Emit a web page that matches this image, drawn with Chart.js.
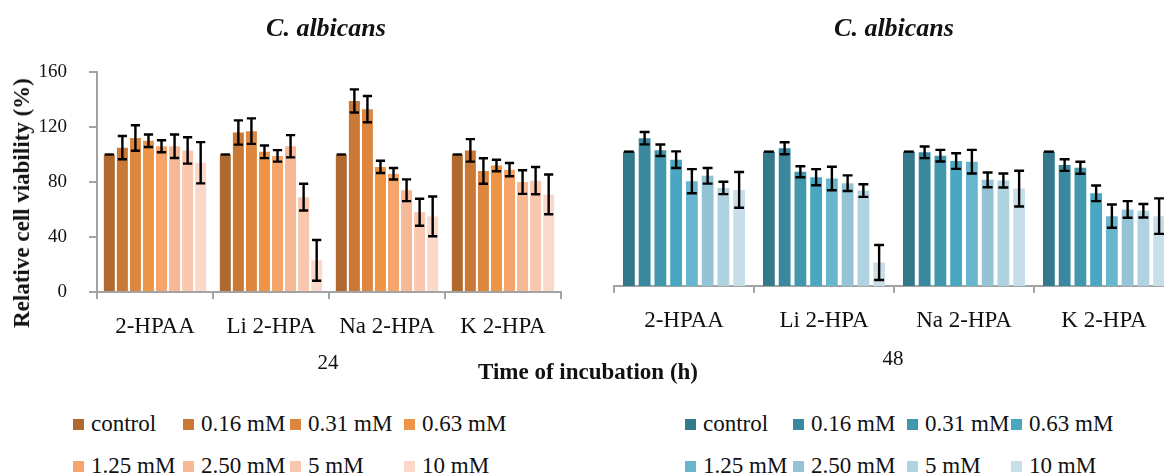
<!DOCTYPE html>
<html>
<head>
<meta charset="utf-8">
<script src="https://cdn.jsdelivr.net/npm/chart.js@4"></script>
<style>
  html, body { margin: 0; padding: 0; background: #fff; overflow: hidden; }
  body { width: 1164px; height: 475px; position: relative; font-family: "Liberation Serif", "DejaVu Serif", serif; color: #111; }
  canvas { position: absolute; top: 0; }
  #cLeft { left: 0; }
  #cRight { left: 600px; }
  .txt { position: absolute; white-space: nowrap; transform: translate(-50%, -50%); }
  .ttl { font-size: 26px; font-weight: bold; font-style: italic; }
  .hrs { font-size: 21px; }
  .xt { font-size: 23px; font-weight: bold; }
  .yt { font-size: 23px; font-weight: bold; transform: translate(-50%, -50%) rotate(-90deg); }
  .legend { position: absolute; display: grid; row-gap: 16px; font-size: 23px; line-height: 26px; }
  .legend .it { display: flex; align-items: center; }
  .legend .sw { width: 11px; height: 11px; margin-right: 7px; flex: none; }
</style>
</head>
<body>
<canvas id="cLeft" width="590" height="352"></canvas>
<canvas id="cRight" width="600" height="352"></canvas>

<div class="txt ttl" style="left:326px; top:28px">C. albicans</div>
<div class="txt ttl" style="left:894px; top:28px">C. albicans</div>
<div class="txt yt" style="left:22px; top:203px">Relative cell viability (%)</div>
<div class="txt hrs" style="left:328px; top:362px">24</div>
<div class="txt hrs" style="left:893px; top:358px">48</div>
<div class="txt xt" style="left:588px; top:372px">Time of incubation (h)</div>

<div class="legend" id="legLeft" style="left:73px; top:411px; grid-template-columns: 110px 107px 114px 110px"></div>
<div class="legend" id="legRight" style="left:685px; top:411px; grid-template-columns: 108px 114px 104px 110px"></div>

<script>
/* ---------- Dados ---------- */
const CATEGORIAS = ["2-HPAA", "Li 2-HPA", "Na 2-HPA", "K 2-HPA"];
const CONCENTRACOES = ["control", "0.16 mM", "0.31 mM", "0.63 mM", "1.25 mM", "2.50 mM", "5 mM", "10 mM"];

// 24 h — uma linha por concentração, uma coluna por composto
const MEDIA_24 = [
  [100, 100, 100, 100],
  [105, 116, 139, 103],
  [112, 117, 133, 88],
  [110, 102, 91, 92],
  [106, 99, 86, 89],
  [106, 106, 74, 80],
  [103, 69, 58, 81],
  [94, 23, 55, 71],
];
const ERRO_24 = [
  [0, 0, 0, 0],
  [8.5, 8.8, 8.4, 8.2],
  [9.3, 9.3, 9.5, 9.3],
  [4.5, 4.6, 4.5, 4.2],
  [4.4, 4.2, 4.2, 4.8],
  [8.5, 8.1, 7.9, 8.6],
  [9.6, 9.7, 9.8, 9.9],
  [15, 14.8, 14.5, 14.5],
];

// 48 h
const MEDIA_48 = [
  [100, 100, 100, 100],
  [110, 102.5, 99.5, 90],
  [101, 85, 97, 88],
  [94, 81, 93, 69],
  [78, 80, 92.5, 52],
  [82, 76.5, 79, 57],
  [73, 71, 78.5, 56],
  [71.5, 17.5, 72.5, 52],
];
const ERRO_48 = [
  [0, 0, 0, 0],
  [4.6, 4.5, 4.3, 4.3],
  [4.3, 4.1, 4.3, 4.5],
  [6.2, 6, 5.8, 5.8],
  [9, 8.7, 8.8, 8.6],
  [5.8, 5.8, 5.5, 6.2],
  [4.6, 4.7, 5.2, 5],
  [13.3, 13, 13.3, 13.2],
];

const Y_TICKS = [0, 40, 80, 120, 160];

const LARANJA = ["#b0692f", "#c97836", "#dc8640", "#ee9447", "#f5a46a", "#f7b995", "#f9c7ad", "#fad9cb"];
const AZUL = ["#33798b", "#3a889d", "#4197ac", "#4aa7c1", "#68b6cd", "#93c3d4", "#afd3e0", "#c8dee8"];

const FONTE = "'Liberation Serif', 'DejaVu Serif', serif";
const EIXO = "#a3a3a3";

/* ---------- Barras de erro ---------- */
const errorBars = {
  id: "errorBars",
  afterDatasetsDraw(chart) {
    const ctx = chart.ctx;
    const y = chart.scales.y;
    ctx.save();
    ctx.strokeStyle = "#000";
    ctx.lineWidth = 2.4;
    chart.data.datasets.forEach((ds, i) => {
      const meta = chart.getDatasetMeta(i);
      meta.data.forEach((bar, j) => {
        const v = ds.data[j];
        const e = ds.erros[j];
        const top = y.getPixelForValue(v + e);
        const bot = y.getPixelForValue(v - e);
        const half = bar.width * 0.42;
        ctx.beginPath();
        if (e > 0) {
          ctx.moveTo(bar.x, top);
          ctx.lineTo(bar.x, bot);
          ctx.moveTo(bar.x - half, bot);
          ctx.lineTo(bar.x + half, bot);
        }
        ctx.moveTo(bar.x - half, top);
        ctx.lineTo(bar.x + half, top);
        ctx.stroke();
      });
    });
    ctx.restore();
  },
};

function montarDatasets(medias, erros, cores, barPct) {
  return CONCENTRACOES.map((c, i) => ({
    label: c,
    data: medias[i],
    erros: erros[i],
    backgroundColor: cores[i],
    barPercentage: barPct,
    categoryPercentage: 0.9,
  }));
}

function grafico(id, medias, erros, cores, cfg) {
  return new Chart(document.getElementById(id), {
    type: "bar",
    data: { labels: CATEGORIAS, datasets: montarDatasets(medias, erros, cores, cfg.barPct) },
    plugins: [errorBars],
    options: {
      responsive: false,
      animation: false,
      devicePixelRatio: 1,
      layout: { padding: cfg.padding },
      plugins: { legend: { display: false }, tooltip: { enabled: false } },
      scales: {
        x: {
          afterFit: (s) => { s.height = cfg.xHeight; },
          grid: { display: true, drawOnChartArea: false, drawTicks: true, tickLength: 7, color: EIXO, lineWidth: 2, offset: true },
          border: { display: true, color: EIXO, width: 2 },
          ticks: { color: "#111", padding: 14, font: { family: FONTE, size: 23 } },
        },
        y: {
          display: cfg.showY,
          min: Y_TICKS[0],
          max: Y_TICKS[Y_TICKS.length - 1],
          afterFit: (s) => { if (cfg.showY) s.width = 87; },
          afterBuildTicks: (s) => { s.ticks = Y_TICKS.map((v) => ({ value: v })); },
          grid: { drawOnChartArea: false, drawTicks: true, tickLength: 8, color: EIXO, lineWidth: 2 },
          border: { display: true, color: EIXO, width: 2 },
          ticks: { color: "#111", padding: 22, font: { family: FONTE, size: 19 } },
        },
      },
    },
  });
}

/* ---------- Legendas ---------- */
function legenda(id, cores) {
  document.getElementById(id).innerHTML = CONCENTRACOES.map(
    (c, i) => `<div class="it"><span class="sw" style="background:${cores[i]}"></span>${c}</div>`
  ).join("");
}

function init() {
  grafico("cLeft", MEDIA_24, ERRO_24, LARANJA, {
    barPct: 0.84,
    showY: true,
    xHeight: 60,
    padding: { top: 72, left: 10, right: 29, bottom: 0 },
  });
  grafico("cRight", MEDIA_48, ERRO_48, AZUL, {
    barPct: 0.75,
    showY: false,
    xHeight: 66,
    padding: { top: 71, left: 14, right: 26, bottom: 0 },
  });
  legenda("legLeft", LARANJA);
  legenda("legRight", AZUL);
}

document.addEventListener("DOMContentLoaded", init);
</script>
</body>
</html>
